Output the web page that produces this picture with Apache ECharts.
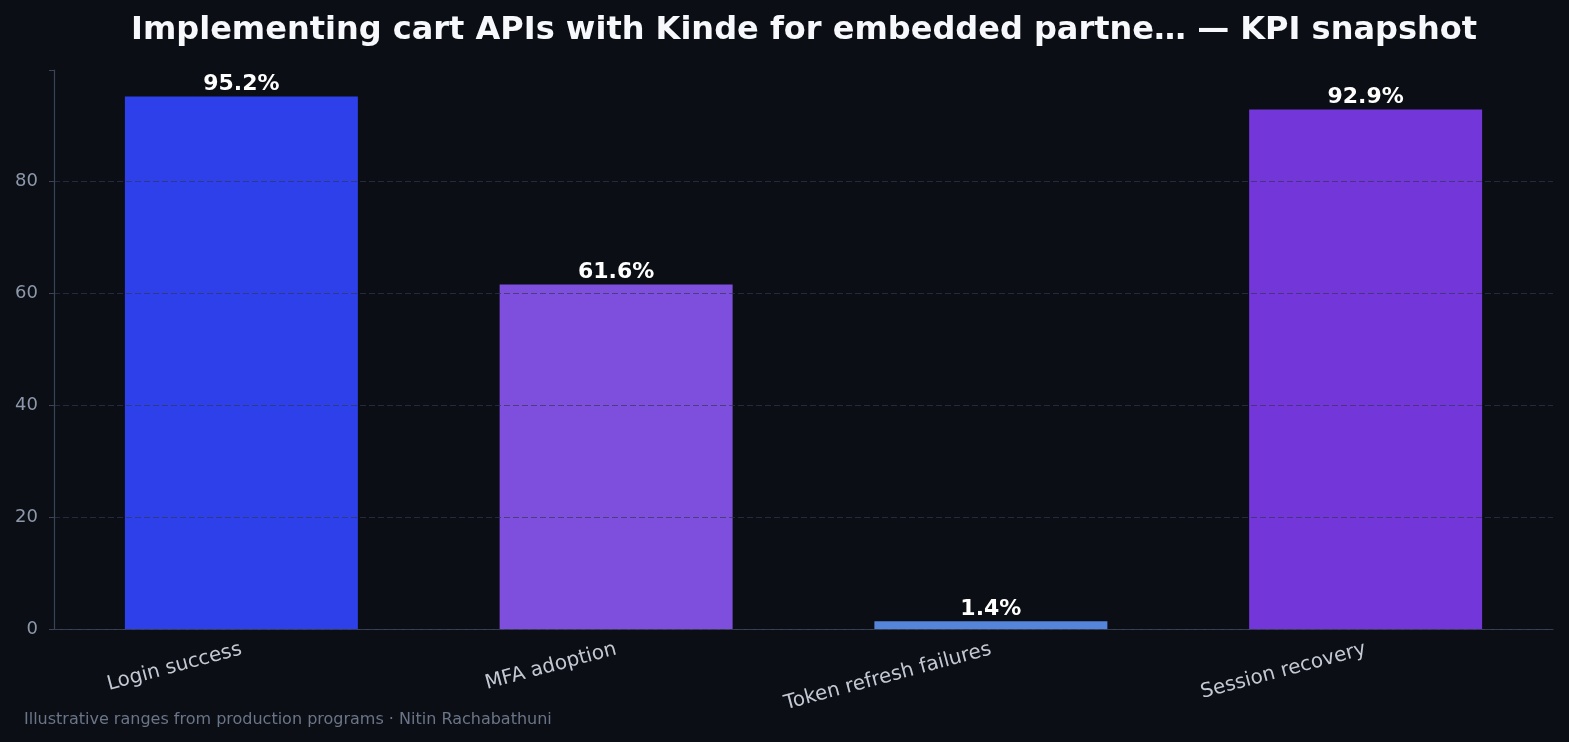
<!DOCTYPE html>
<html>
<head>
<meta charset="utf-8">
<script src="https://cdn.jsdelivr.net/npm/echarts@6/dist/echarts.min.js"></script>
<style>
  html, body { margin: 0; padding: 0; background: #0b0e14; }
  #chart { width: 1569px; height: 742px; }
</style>
</head>
<body>
<div id="chart"></div>
<script>
// data
const categories = ["Login success", "MFA adoption", "Token refresh failures", "Session recovery"];
const values = [95.2, 61.6, 1.4, 92.9];
const barColors = ["#2e40ea", "#7e4edd", "#5584db", "#7336d9"];
const yTicks = [0, 20, 40, 60, 80];

const chart = echarts.init(document.getElementById("chart"));
const font = "DejaVu Sans";
const gridColor = "rgba(48,56,80,0.68)";

const option = {
  backgroundColor: "#0b0e14",
  title: {
    text: "Implementing cart APIs with Kinde for embedded partne… — KPI snapshot",
    left: 126, // centred over the plot area
    top: 10,
    textStyle: { color: "#f7f8fb", fontSize: 32, fontWeight: "bold", fontFamily: font },
  },
  graphic: [
    {
      type: "text",
      left: 24,
      top: 712,
      style: {
        text: "Illustrative ranges from production programs · Nitin Rachabathuni",
        fill: "#6b7588",
        font: "16px " + font,
      },
    },
  ],
  grid: { left: 54, right: 16, top: 70, bottom: 113 },
  xAxis: {
    type: "category",
    data: categories,
    axisLine: { lineStyle: { color: "#3a4456", width: 1.2 } },
    axisTick: { alignWithLabel: true, length: 5, lineStyle: { color: "#111318" } },
    axisLabel: { rotate: 15, color: "#c3c8d2", fontSize: 20, fontFamily: font, margin: 20 },
  },
  yAxis: {
    type: "value",
    min: 0,
    max: 99.96, // headroom above the tallest bar
    interval: 20,
    z: 3, // grid drawn over the bars
    axisLine: { show: true, lineStyle: { color: "#3a4456", width: 1.2 } },
    axisTick: { show: true, length: 5, lineStyle: { color: "#3a4456" } },
    axisLabel: {
      color: "#8d98ab",
      fontSize: 18,
      fontFamily: font,
      margin: 16,
      formatter: (v) => (yTicks.includes(v) ? String(v) : ""),
    },
    splitLine: {
      show: true,
      lineStyle: {
        // last line (at max) hidden
        color: [gridColor, gridColor, gridColor, gridColor, gridColor, "rgba(0,0,0,0)"],
        type: [6, 3],
        width: 1,
      },
    },
  },
  series: [
    {
      type: "bar",
      barWidth: 233,
      data: values.map((v, i) => ({ value: v, itemStyle: { color: barColors[i] } })),
      label: {
        show: true,
        position: "top",
        distance: 1,
        formatter: (p) => p.value.toFixed(1) + "%",
        color: "#ffffff",
        fontSize: 22,
        fontWeight: "bold",
        fontFamily: font,
      },
    },
  ],
};

chart.setOption(option);
</script>
</body>
</html>
